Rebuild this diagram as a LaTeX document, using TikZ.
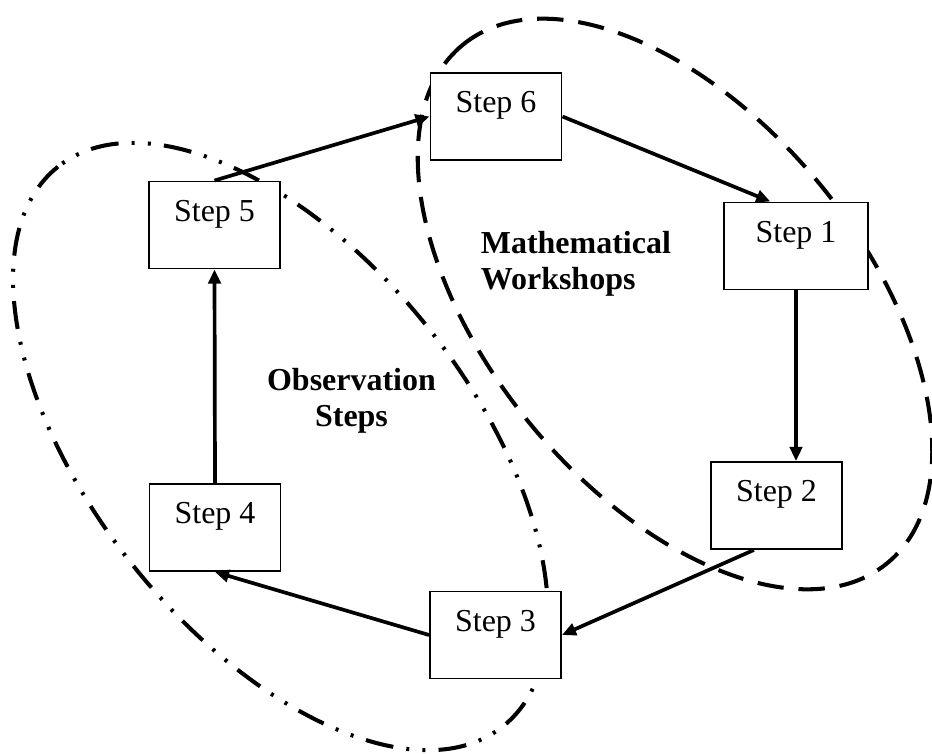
\documentclass[tikz,border=0pt]{standalone}
\usepackage{fontspec}
\setmainfont{Liberation Serif}
\usetikzlibrary{arrows.meta}
\begin{document}
\begin{tikzpicture}[>={Triangle[length=8pt,width=7pt]}, line width=2.1pt,
  stepbox/.style={draw, fill=white, line width=1.1pt, inner xsep=0pt, inner ysep=0pt,
    minimum width=2.62cm, text height=0.8cm, text depth=0.94cm,
    font=\fontsize{18.2}{21}\selectfont},
  grouplabel/.style={inner sep=0pt, font=\fontsize{18.2}{21}\selectfont\bfseries}]
\useasboundingbox (0,0) rectangle (18.64,15.06);

\draw [line width=2.3pt, dash pattern=on 15pt off 8.5pt, rotate around={129.3:(13.5,8.98)}]
  (13.5,8.98) ellipse [x radius=6.70, y radius=3.76];
\draw [line width=2.3pt, dash pattern=on 16pt off 7.5pt on 1.7pt off 7.5pt on 1.7pt off 7.5pt,
  rotate around={128.5:(5.61,6.13)}]
  (5.61,6.13) ellipse [x radius=7.15, y radius=3.79];

\node [stepbox] (s6) at (9.92,12.73) {Step 6};
\node [stepbox, minimum width=2.88cm] (s1) at (15.92,10.14) {Step 1};
\node [stepbox] (s2) at (15.53,4.95) {Step 2};
\node [stepbox] (s3) at (9.91,2.36) {Step 3};
\node [stepbox] (s4) at (4.30,4.51) {Step 4};
\node [stepbox] (s5) at (4.29,10.56) {Step 5};

\node [grouplabel, align=left, anchor=north west] (mw) at (9.58,10.48) {Mathematical\\Workshops};
\node [grouplabel, align=center, anchor=north] (os) at (7.03,7.74) {Observation\\Steps};

\draw [->] (s5.north) -- (s6.west);
\draw [->] (s6.east) -- (s1.120);
\draw [->] (s1.south) -- (s1.south |- s2.north);
\draw [->] (s2.243) -- (s3.east);
\draw [->] (s3.west) -- (s4.south);
\draw [->] (s4.north) -- (s5.south);
\end{tikzpicture}
\end{document}
